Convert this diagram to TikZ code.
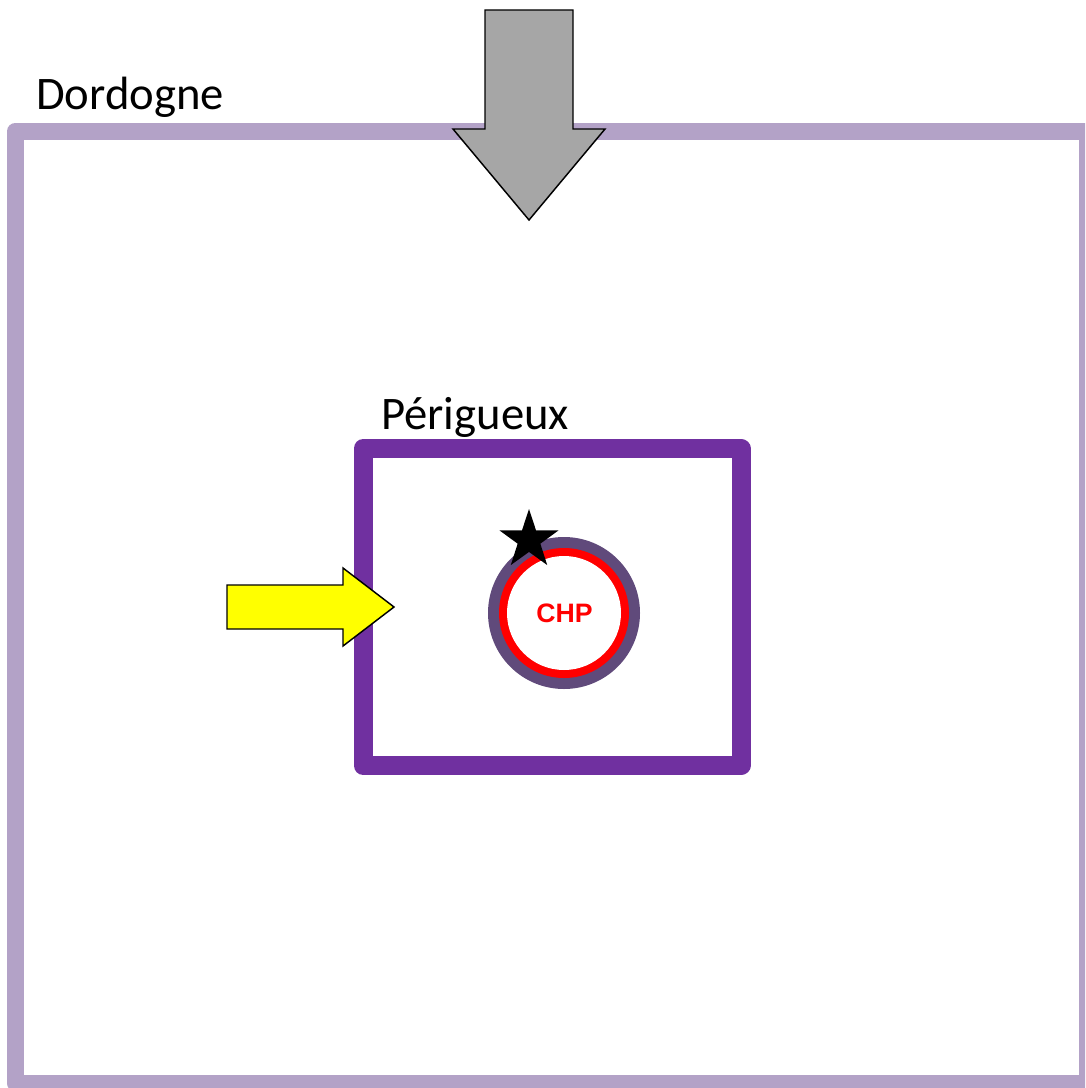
\documentclass[tikz,border=0pt]{standalone}
\usepackage{fontspec}
\setmainfont{Carlito}
\newfontfamily\chpfont{Liberation Sans}
\usetikzlibrary{shapes.geometric}
\definecolor{lightpurple}{HTML}{B3A2C7}
\definecolor{darkpurple}{HTML}{7030A0}
\definecolor{ringpurple}{HTML}{604A7B}
\definecolor{arrowgray}{HTML}{A6A6A6}
\definecolor{chpred}{HTML}{FF0000}
\definecolor{arrowyellow}{HTML}{FFFF00}
\tikzset{
  label text/.style={inner sep=0pt, anchor=base west, font=\fontsize{35}{42}\selectfont},
  block arrow/.style={draw=black, line width=1.1pt, line join=miter},
  frame/.style={line join=round},
}
\begin{document}
\begin{tikzpicture}[x=0.75pt,y=-0.75pt]
\useasboundingbox (0,0) rectangle (1085,1088);
\clip (0,0) rectangle (1085,1088);
% Dordogne frame
\draw[frame, line width=12.75pt, draw=lightpurple] (15.5,131) rectangle (1087.5,1083);
\node[label text] (dordogne) at (36,109.5) {Dordogne};
% gray arrow
\draw[block arrow, fill=arrowgray] (485,10) -- (573,10) -- (573,129) -- (605,129) -- (529,220) -- (453,129) -- (485,129) -- cycle;
% Perigueux frame
\draw[frame, line width=14.25pt, draw=darkpurple] (363,448.5) rectangle (741,765.5);
\node[label text] (perigueux) at (381,429.5) {Périgueux};
% yellow arrow
\draw[block arrow, fill=arrowyellow] (227,585) -- (343,585) -- (343,568) -- (394,607) -- (343,646) -- (343,629) -- (227,629) -- cycle;
% CHP circle
\fill[ringpurple] (564,613) circle[radius=57pt];
\fill[chpred] (564,613) circle[radius=48.75pt];
\fill[white] (564,613) circle[radius=42.75pt];
\node[inner sep=0pt, text=chpred, font=\chpfont\bfseries\fontsize{20}{22}\selectfont] (chp) at (564.5,613.5) {CHP};
% star
\node[star, star points=5, star point ratio=2.6, minimum size=46.5pt, inner sep=0pt, fill=black] (star) at (529,540) {};
\end{tikzpicture}
\end{document}
